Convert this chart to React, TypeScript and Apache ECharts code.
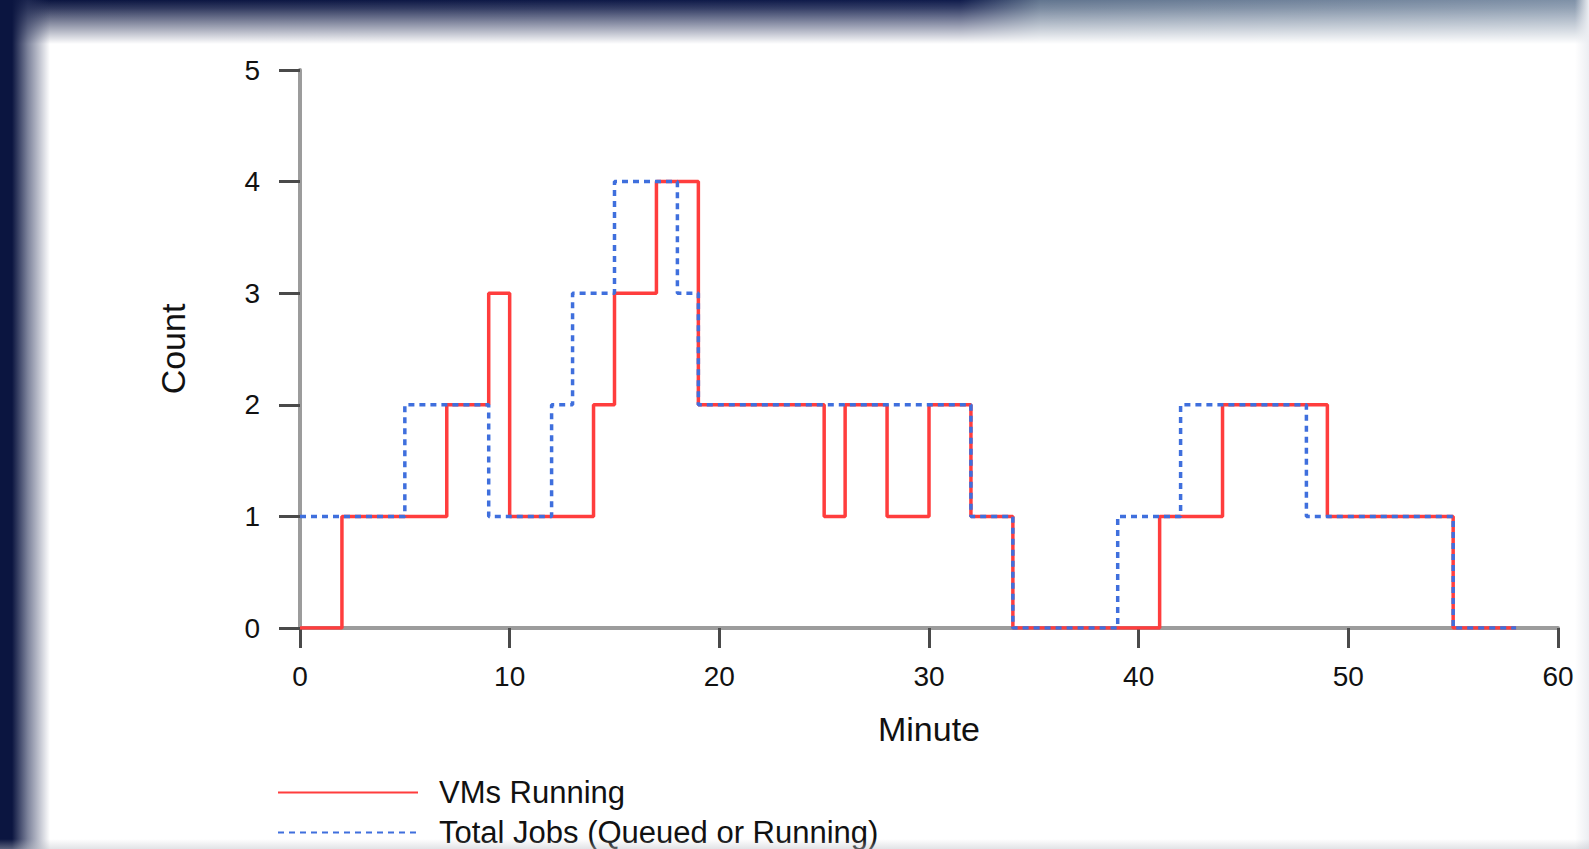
import React, { useEffect, useRef } from "react";
import * as echarts from "echarts";

// Step data: value holds from this minute until the next listed minute
const vmMinutes = [0, 2, 7, 9, 10, 14, 15, 17, 19, 25, 26, 28, 30, 32, 34, 41, 44, 49, 55, 58];
const vmCounts = [0, 1, 2, 3, 1, 2, 3, 4, 2, 1, 2, 1, 2, 1, 0, 1, 2, 1, 0, 0];

const jobMinutes = [0, 5, 9, 12, 13, 15, 18, 19, 32, 34, 39, 42, 48, 55, 58];
const jobCounts = [1, 2, 1, 2, 3, 4, 3, 2, 1, 0, 1, 2, 1, 0, 0];

const xTicks = [0, 10, 20, 30, 40, 50, 60];
const yTicks = [0, 1, 2, 3, 4, 5];

const seriesNames = ["VMs Running", "Total Jobs (Queued or Running)"];
const xTitle = "Minute";
const yTitle = "Count";

const FONT = "'Liberation Sans', Arial, Helvetica, sans-serif";

export default function App() {
  const ref = useRef<HTMLDivElement>(null);

  useEffect(() => {
    if (!ref.current) return;
    const chart = echarts.init(ref.current, undefined, { renderer: "svg" });
    const vmData = vmMinutes.map((m, i) => [m, vmCounts[i]]);
    const jobData = jobMinutes.map((m, i) => [m, jobCounts[i]]);
    const legendBase = {
      orient: "horizontal",
      left: 272,
      itemWidth: 140,
      itemHeight: 14,
      textStyle: { fontSize: 31, color: "#111", fontFamily: FONT, padding: [0, 0, 0, 16] },
    };
    chart.setOption({
      animation: false,
      backgroundColor: "transparent",
      textStyle: { fontFamily: FONT },
      grid: { left: 300, top: 70, width: 1258, height: 558, containLabel: false },
      xAxis: {
        type: "value",
        min: xTicks[0],
        max: xTicks[xTicks.length - 1],
        interval: 10,
        name: xTitle,
        nameLocation: "middle",
        nameGap: 84,
        nameTextStyle: { fontSize: 34, color: "#111", fontFamily: FONT },
        axisLine: { show: true, onZero: false, lineStyle: { color: "#9c9c9c", width: 4 } },
        axisTick: { show: true, length: 20, lineStyle: { color: "#4a4a4a", width: 3 } },
        axisLabel: { fontSize: 28, color: "#111", margin: 34, fontFamily: FONT },
        splitLine: { show: false },
      },
      yAxis: {
        type: "value",
        min: yTicks[0],
        max: yTicks[yTicks.length - 1],
        interval: 1,
        name: yTitle,
        nameLocation: "middle",
        nameRotate: 90,
        nameGap: 110,
        nameTextStyle: { fontSize: 34, color: "#111", fontFamily: FONT },
        axisLine: { show: true, lineStyle: { color: "#9c9c9c", width: 4 } },
        axisTick: { show: true, length: 21, lineStyle: { color: "#4a4a4a", width: 3 } },
        axisLabel: { fontSize: 28, color: "#111", margin: 40, fontFamily: FONT },
        splitLine: { show: false },
      },
      legend: [
        { ...legendBase, top: 772, data: [seriesNames[0]] },
        { ...legendBase, top: 812, data: [seriesNames[1]] },
      ],
      series: [
        {
          name: seriesNames[0],
          type: "line",
          step: "end",
          symbol: "none",
          data: vmData,
          z: 2,
          lineStyle: { color: "#ff3d3d", width: 3.5 },
          itemStyle: { color: "#ff3d3d", opacity: 0 },
        },
        {
          name: seriesNames[1],
          type: "line",
          step: "end",
          symbol: "none",
          data: jobData,
          z: 3,
          lineStyle: { color: "#3f6fdd", width: 3.5, type: [6, 5] },
          itemStyle: { color: "#3f6fdd", opacity: 0 },
        },
      ],
    });
    return () => chart.dispose();
  }, []);

  return (
    <div style={{ position: "fixed", left: 0, top: 0, width: 1589, height: 849, background: "#fff", overflow: "hidden" }}>
      <div
        style={{
          position: "absolute", left: 0, top: 0, width: 1589, height: 60,
          background:
            "linear-gradient(to bottom, rgba(255,255,255,0) 0px, rgba(255,255,255,0.15) 8px, rgba(255,255,255,1) 44px), linear-gradient(to right, #0b1540 0px, #101c4c 960px, #62758f 1040px, #8092a8 1589px)",
        }}
      />
      <div
        style={{
          position: "absolute", left: 0, top: 0, width: 60, height: 849,
          background: "linear-gradient(to right, #0b1540 0px, #0b1540 12px, rgba(40,50,90,0.6) 28px, rgba(255,255,255,0) 50px)",
        }}
      />
      <div
        style={{
          position: "absolute", right: 0, top: 0, width: 14, height: 849,
          background: "linear-gradient(to right, rgba(240,242,245,0) 0px, rgba(236,238,242,1) 14px)",
        }}
      />
      <div ref={ref} style={{ position: "absolute", left: 0, top: 0, width: 1589, height: 849 }} />
      <div
        style={{
          position: "absolute", left: 0, bottom: 0, width: 1589, height: 10, pointerEvents: "none",
          background: "linear-gradient(to bottom, rgba(200,202,208,0) 0px, rgba(190,193,200,0.45) 10px)",
        }}
      />
    </div>
  );
}
